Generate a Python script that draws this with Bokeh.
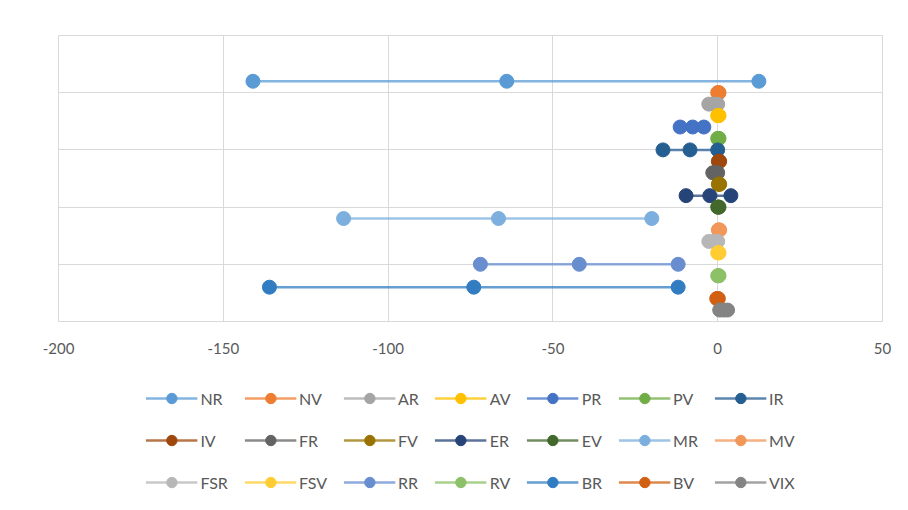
from bokeh.plotting import figure
from bokeh.layouts import column
from bokeh.models import Range1d, FixedTicker, Legend, LegendItem, ColumnDataSource
from bokeh.embed import file_html
from bokeh.resources import INLINE

# ---- data -------------------------------------------------------------
series = ["NR", "NV", "AR", "AV", "PR", "PV", "IR",
          "IV", "FR", "FV", "ER", "EV", "MR", "MV",
          "FSR", "FSV", "RR", "RV", "BR", "BV", "VIX"]

colors = ["#5B9BD5", "#ED7D31", "#A5A5A5", "#FFC000", "#4472C4", "#70AD47", "#255E91",
          "#9E480E", "#636363", "#997300", "#264478", "#43682B", "#7CAFDD", "#F1975A",
          "#B7B7B7", "#FFCD33", "#698ED0", "#8CC168", "#327DC2", "#D26012", "#848484"]

nr = [-141.0, -64.0, 12.5]
nv = [0.0, 0.2, 0.4]
ar = [-2.7, -1.2, 0.0]
av = [0.0, 0.2, 0.4]
pr = [-11.4, -7.6, -4.2]
pv = [0.0, 0.2, 0.4]
ir = [-16.6, -8.4, 0.0]
iv = [0.2, 0.4, 0.6]
fr = [-1.5, -0.8, 0.0]
fv = [0.2, 0.4, 0.6]
er = [-9.6, -2.4, 4.0]
ev = [0.0, 0.2, 0.4]
mr = [-113.5, -66.5, -20.0]
mv = [0.2, 0.4, 0.6]
fsr = [-2.7, -1.2, 0.0]
fsv = [0.0, 0.2, 0.4]
rr = [-72.0, -42.0, -12.0]
rv = [0.0, 0.2, 0.4]
br = [-136.0, -74.0, -12.0]
bv = [-0.3, 0.0, 0.2]
vix = [0.6, 1.8, 3.0]

values = [nr, nv, ar, av, pr, pv, ir, iv, fr, fv, er, ev, mr, mv,
          fsr, fsv, rr, rv, br, bv, vix]

x_ticks = [-200, -150, -100, -50, 0, 50]
x_tick_labels = ["-200", "-150", "-100", "-50", "0", "50"]
y_grid = [0, 5, 10, 15, 20, 25]

# ---- main chart -------------------------------------------------------
FONT = "Lato"
TXT = "#595959"

p = figure(width=908, height=375, output_backend="svg", toolbar_location=None,
           x_range=Range1d(-200, 50), y_range=Range1d(0, 25),
           y_axis_location=None,
           min_border_left=58, min_border_right=26, min_border_top=35,
           min_border_bottom=54)

p.background_fill_color = "white"
p.border_fill_color = "white"
p.outline_line_color = "#D9D9D9"
p.outline_line_width = 1

p.xaxis.ticker = FixedTicker(ticks=x_ticks)
p.xaxis.major_label_overrides = dict(zip(x_ticks, x_tick_labels))
p.xaxis.axis_line_color = "#D9D9D9"
p.xaxis.major_tick_line_color = None
p.xaxis.minor_tick_line_color = None
p.xaxis.major_tick_out = 0
p.xaxis.major_label_standoff = 21
p.xaxis.major_label_text_font = FONT
p.xaxis.major_label_text_font_size = "15px"
p.xaxis.major_label_text_color = TXT

p.xgrid.ticker = FixedTicker(ticks=x_ticks)
p.xgrid.grid_line_color = "#D9D9D9"
p.ygrid.ticker = FixedTicker(ticks=y_grid)
p.ygrid.grid_line_color = "#D9D9D9"

n = len(series)
for i, (name, col, vals) in enumerate(zip(series, colors, values)):
    yv = n - i
    src = ColumnDataSource(dict(x=vals, y=[yv] * len(vals)))
    p.line("x", "y", source=src, line_color=col, line_width=2.5, line_alpha=0.75)
    p.scatter("x", "y", source=src, marker="circle", size=14,
              fill_color=col, line_color=col, line_width=1)

# ---- legend panel -----------------------------------------------------
q = figure(width=908, height=135, output_backend="svg", toolbar_location=None,
           x_range=Range1d(0, 1), y_range=Range1d(0, 1),
           x_axis_location=None, y_axis_location=None,
           min_border_left=0, min_border_right=0, min_border_top=0,
           min_border_bottom=0)
q.grid.visible = False
q.outline_line_color = None
q.background_fill_color = "white"
q.border_fill_color = "white"

items = []
for name, col in zip(series, colors):
    ln = q.line([5, 6], [5, 6], line_color=col, line_width=2.5, line_alpha=0.75)
    sc = q.scatter([5], [5], marker="circle", size=10,
                   fill_color=col, line_color=col, line_width=1)
    items.append(LegendItem(label=name, renderers=[ln, sc]))

lg = Legend(items=items, orientation="horizontal", ncols=7,
            location="top_center", glyph_width=52, glyph_height=26,
            label_height=26, label_standoff=3, spacing=16,
            padding=0, margin=10,
            label_text_font=FONT, label_text_font_size="16px",
            label_text_color=TXT, border_line_alpha=0,
            background_fill_alpha=0)
q.add_layout(lg, "center")

layout = column(p, q, spacing=0)
open("out.html", "w").write(file_html(layout, INLINE))
